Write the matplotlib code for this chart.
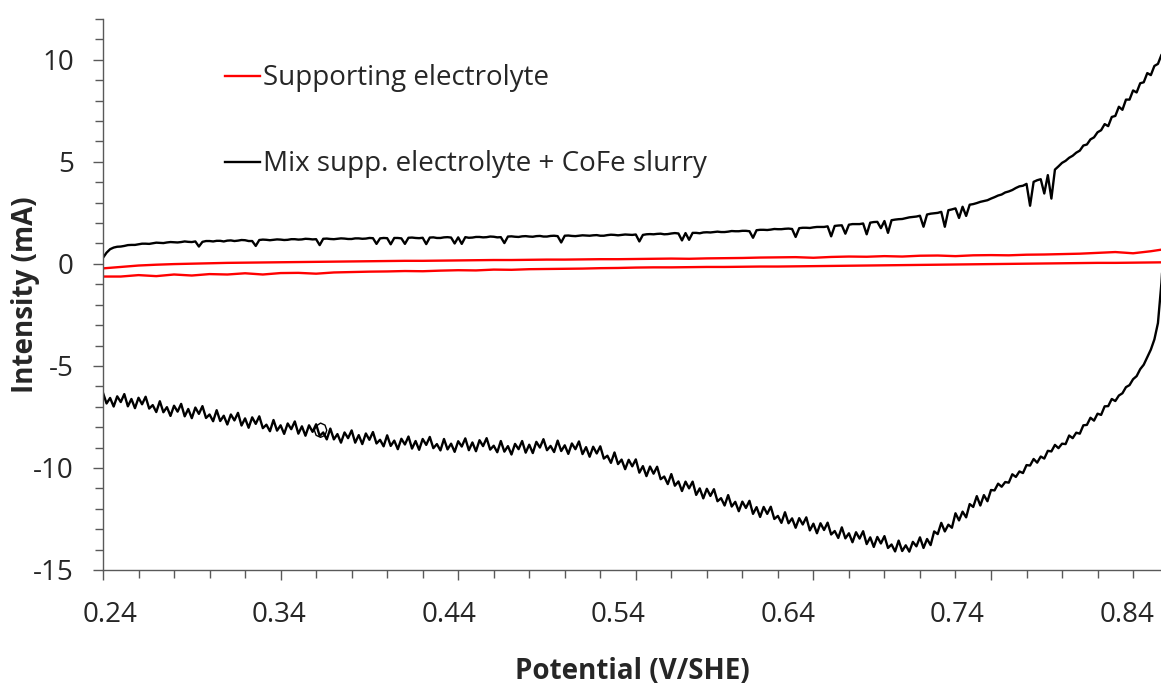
import matplotlib.pyplot as plt
import numpy as np

plt.rcParams['font.family'] = ['Open Sans', 'DejaVu Sans']
plt.rcParams['axes.unicode_minus'] = False

# potential scan (V/SHE), black curve sampled every 2 mV
pot_black = np.round(0.24 + 0.002*np.arange(301), 4)

# mix supp. electrolyte + CoFe slurry, anodic branch (mA)
mix_fwd = [0.30, 0.55, 0.72, 0.80, 0.84, 0.85, 0.88, 0.92, 0.93, 0.93,
           0.96, 0.99, 0.99, 0.98, 1.01, 1.04, 1.03, 1.02, 1.05, 1.07,
           1.06, 1.05, 1.07, 1.10, 1.08, 1.07, 1.10, 0.85, 1.08, 1.12,
           1.12, 1.10, 1.13, 1.13, 1.10, 1.14, 1.15, 1.12, 1.14, 1.17,
           1.16, 1.12, 1.12, 0.88, 1.17, 1.19, 1.18, 1.16, 1.18, 1.20,
           1.19, 1.17, 1.18, 1.21, 1.21, 1.19, 1.20, 1.23, 1.22, 1.20,
           1.21, 0.92, 1.23, 1.24, 1.22, 1.21, 1.23, 1.25, 1.24, 1.22,
           1.22, 1.25, 1.25, 1.23, 1.24, 1.27, 1.26, 0.98, 1.25, 1.27,
           1.26, 0.96, 1.27, 1.27, 1.25, 0.98, 1.28, 1.29, 1.27, 1.26,
           1.28, 0.97, 1.29, 1.30, 1.27, 1.27, 1.30, 1.31, 1.29, 1.00,
           1.30, 0.98, 1.31, 1.28, 1.29, 1.32, 1.32, 1.30, 1.31, 1.34,
           1.33, 1.30, 1.31, 1.02, 1.34, 1.35, 1.33, 1.32, 1.35, 1.36,
           1.34, 1.33, 1.36, 1.37, 1.34, 1.34, 1.37, 1.38, 1.36, 1.05,
           1.38, 1.39, 1.37, 1.36, 1.38, 1.40, 1.39, 1.38, 1.40, 1.41,
           1.38, 1.38, 1.41, 1.43, 1.42, 1.40, 1.42, 1.44, 1.43, 1.42,
           1.44, 1.10, 1.42, 1.45, 1.46, 1.45, 1.47, 1.48, 1.45, 1.46,
           1.49, 1.51, 1.49, 1.15, 1.51, 1.18, 1.52, 1.52, 1.50, 1.54,
           1.55, 1.54, 1.56, 1.58, 1.56, 1.56, 1.58, 1.61, 1.60, 1.60,
           1.62, 1.62, 1.60, 1.28, 1.65, 1.67, 1.67, 1.66, 1.68, 1.71,
           1.70, 1.70, 1.72, 1.73, 1.71, 1.32, 1.75, 1.77, 1.77, 1.76,
           1.79, 1.81, 1.81, 1.81, 1.84, 1.35, 1.86, 1.88, 1.89, 1.48,
           1.92, 1.95, 1.95, 1.95, 1.98, 1.45, 2.02, 2.05, 2.06, 1.75,
           2.10, 1.52, 2.14, 2.17, 2.19, 2.20, 2.24, 2.28, 2.30, 2.32,
           2.36, 1.82, 2.42, 2.46, 2.48, 2.50, 2.55, 1.82, 2.63, 2.67,
           2.72, 2.25, 2.80, 2.35, 2.90, 2.93, 2.98, 3.04, 3.08, 3.12,
           3.20, 3.27, 3.35, 3.40, 3.50, 3.55, 3.62, 3.72, 3.80, 3.83,
           3.92, 2.85, 4.02, 4.10, 4.15, 3.45, 4.35, 3.20, 4.62, 4.78,
           4.95, 5.05, 5.20, 5.30, 5.45, 5.55, 5.80, 5.85, 6.10, 6.20,
           6.45, 6.55, 6.85, 6.75, 7.20, 7.25, 7.70, 7.55, 8.05, 8.05,
           8.50, 8.40, 8.85, 8.90, 9.35, 9.25, 9.70, 9.80, 10.25, 10.40,
           10.80]

# mix, cathodic branch (mA), listed by increasing potential
mix_rev = [-6.32, -6.84, -6.57, -6.99, -6.49, -6.77, -6.38, -6.98, -6.62, -7.07,
           -6.56, -6.88, -6.51, -7.09, -6.92, -7.26, -6.73, -7.27, -7.02, -7.45,
           -6.95, -7.24, -6.86, -7.47, -7.11, -7.56, -7.04, -7.35, -6.97, -7.55,
           -7.38, -7.71, -7.17, -7.70, -7.44, -7.87, -7.38, -7.67, -7.30, -7.92,
           -7.57, -8.03, -7.52, -7.84, -7.47, -8.05, -7.88, -8.20, -7.65, -8.17,
           -7.91, -8.33, -7.82, -8.10, -7.72, -8.32, -7.96, -8.42, -7.91, -8.23,
           -7.86, -8.43, -8.26, -8.60, -8.07, -8.60, -8.34, -8.76, -8.26, -8.54,
           -8.16, -8.76, -8.39, -8.83, -8.31, -8.62, -8.24, -8.80, -8.62, -8.94,
           -8.40, -8.92, -8.66, -9.08, -8.57, -8.85, -8.46, -9.05, -8.68, -9.11,
           -8.58, -8.87, -8.48, -9.03, -8.83, -9.14, -8.58, -9.09, -8.81, -9.21,
           -8.69, -8.95, -8.55, -9.13, -8.75, -9.18, -8.64, -8.93, -8.54, -9.10,
           -8.91, -9.23, -8.68, -9.20, -8.93, -9.34, -8.82, -9.08, -8.68, -9.25,
           -8.86, -9.27, -8.72, -9.00, -8.59, -9.13, -8.92, -9.22, -8.66, -9.17,
           -8.89, -9.31, -8.80, -9.08, -8.70, -9.32, -8.98, -9.45, -8.96, -9.29,
           -8.94, -9.54, -9.40, -9.75, -9.24, -9.81, -9.59, -10.06, -9.60, -9.92,
           -9.58, -10.23, -9.91, -10.40, -9.93, -10.28, -9.94, -10.55, -10.42, -10.79,
           -10.30, -10.87, -10.66, -11.13, -10.67, -11.00, -10.67, -11.32, -11.00, -11.49,
           -11.02, -11.37, -11.04, -11.63, -11.48, -11.84, -11.33, -11.89, -11.66, -12.12,
           -11.65, -11.96, -11.61, -12.25, -11.92, -12.40, -11.91, -12.25, -11.90, -12.50,
           -12.35, -12.69, -12.17, -12.71, -12.47, -12.93, -12.46, -12.77, -12.42, -13.06,
           -12.73, -13.20, -12.71, -13.04, -12.68, -13.26, -13.09, -13.43, -12.91, -13.45,
           -13.20, -13.64, -13.15, -13.46, -13.10, -13.73, -13.40, -13.87, -13.38, -13.70,
           -13.34, -13.92, -13.75, -14.09, -13.56, -14.07, -13.79, -14.10, -13.62, -13.84,
           -13.40, -13.92, -13.48, -13.78, -13.11, -13.24, -12.69, -13.11, -12.78, -12.93,
           -12.22, -12.57, -12.14, -12.42, -11.77, -11.91, -11.38, -11.84, -11.33, -11.63,
           -11.08, -11.10, -10.77, -10.92, -10.69, -10.72, -10.31, -10.44, -10.17, -10.25,
           -9.86, -9.88, -9.56, -9.74, -9.44, -9.54, -9.16, -9.19, -8.87, -9.03,
           -8.81, -8.83, -8.41, -8.54, -8.27, -8.32, -7.91, -7.89, -7.54, -7.68,
           -7.34, -7.40, -6.98, -6.97, -6.62, -6.72, -6.45, -6.34, -6.04, -5.94,
           -5.65, -5.50, -5.16, -4.94, -4.57, -4.20, -3.70, -2.90, -0.90, 2.00,
           5.00]

# small loop in the cathodic trace near 0.36 V
loop_pot = [0.3600, 0.3625, 0.3650, 0.3660, 0.3650, 0.3625, 0.3600, 0.3590, 0.3600]
loop_cur = [-7.95, -7.80, -7.90, -8.15, -8.40, -8.50, -8.40, -8.15, -7.95]

# supporting electrolyte, sampled every 10 mV
pot_red = np.round(0.24 + 0.01*np.arange(61), 3)
supp_fwd = [-0.22, -0.15, -0.08, -0.04, -0.01, 0.01, 0.03, 0.05, 0.06, 0.07,
            0.08, 0.09, 0.10, 0.11, 0.12, 0.13, 0.14, 0.15, 0.15, 0.16,
            0.17, 0.18, 0.19, 0.19, 0.20, 0.21, 0.21, 0.22, 0.23, 0.23,
            0.24, 0.25, 0.26, 0.25, 0.27, 0.28, 0.29, 0.31, 0.32, 0.33,
            0.30, 0.34, 0.36, 0.35, 0.38, 0.36, 0.40, 0.41, 0.38, 0.42,
            0.43, 0.42, 0.45, 0.46, 0.48, 0.50, 0.54, 0.58, 0.52, 0.62,
            0.75]
supp_rev = [-0.62, -0.62, -0.55, -0.60, -0.52, -0.57, -0.50, -0.52, -0.46, -0.52,
            -0.45, -0.44, -0.48, -0.42, -0.40, -0.38, -0.37, -0.35, -0.36, -0.33,
            -0.31, -0.32, -0.28, -0.29, -0.26, -0.25, -0.24, -0.23, -0.21, -0.20,
            -0.18, -0.17, -0.17, -0.16, -0.15, -0.15, -0.14, -0.13, -0.13, -0.12,
            -0.11, -0.10, -0.09, -0.08, -0.07, -0.06, -0.05, -0.04, -0.03, -0.02,
            -0.01, 0.00, 0.01, 0.02, 0.03, 0.04, 0.05, 0.05, 0.06, 0.07,
            0.08]

x_ticks = [0.24, 0.34, 0.44, 0.54, 0.64, 0.74, 0.84]
y_ticks = [-15, -10, -5, 0, 5, 10]

fig = plt.figure(figsize=(11.61, 6.84), dpi=100)
ax = fig.add_axes([103/1161, 1-570/684, 1058/1161, 551/684])

ax.plot(pot_red, supp_fwd, color='#ff0000', lw=1.7, label='Supporting electrolyte')
ax.plot(pot_red, supp_rev, color='#ff0000', lw=1.7)
ax.plot(pot_black, mix_fwd, color='black', lw=1.7, label='Mix supp. electrolyte + CoFe slurry')
ax.plot(pot_black, mix_rev, color='black', lw=1.7)
ax.plot(loop_pot, loop_cur, color='black', lw=1.0)

for s in ['top', 'right']:
    ax.spines[s].set_visible(False)
for s in ['left', 'bottom']:
    ax.spines[s].set_color('#595959')
    ax.spines[s].set_linewidth(1.0)

ax.set_xticks(x_ticks)
ax.set_xticks(np.round(np.arange(0.24, 0.84, 0.02), 2), minor=True)
ax.set_yticks(y_ticks)
ax.set_yticks(np.arange(-15, 12.5, 1), minor=True)
# set limits after the ticks, otherwise set_xticks widens them
ax.set_xlim(0.24, 0.24 + 1058/1776)
ax.set_ylim(-15, 12)

ax.tick_params(axis='both', which='major', length=7, width=1.0, color='#595959',
               labelsize=20, labelcolor='#262626')
ax.tick_params(axis='both', which='minor', length=5.5, width=1.0, color='#595959')
ax.tick_params(axis='y', which='major', pad=14)
ax.tick_params(axis='x', labelbottom=False)

# the category labels sit slightly off the tick marks in the original
def to_lab(x):
    return 0.24 + (x - 0.24394)/0.9544

def from_lab(s):
    return 0.24394 + 0.9544*(s - 0.24)

sec = ax.secondary_xaxis('bottom', functions=(to_lab, from_lab))
sec.set_xticks(x_ticks)
sec.set_xticklabels(['%.2f' % t for t in x_ticks])
sec.tick_params(length=0, pad=22, labelsize=20, labelcolor='#262626')
sec.spines['bottom'].set_visible(False)

ax.set_xlabel('Potential (V/SHE)', fontsize=20, fontweight='bold', color='#262626')
ax.xaxis.set_label_coords(0.5, -0.157)
ax.set_ylabel('Intensity (mA)', fontsize=20, fontweight='bold', color='#262626')
ax.yaxis.set_label_coords(-0.06, 0.5)

leg = ax.legend(loc='upper left', bbox_to_anchor=(0.092, 0.963), frameon=False,
                fontsize=20, handlelength=1.25, handletextpad=0.1, labelspacing=2.09,
                labelcolor='#262626')

fig.savefig('out.png', dpi=100)
